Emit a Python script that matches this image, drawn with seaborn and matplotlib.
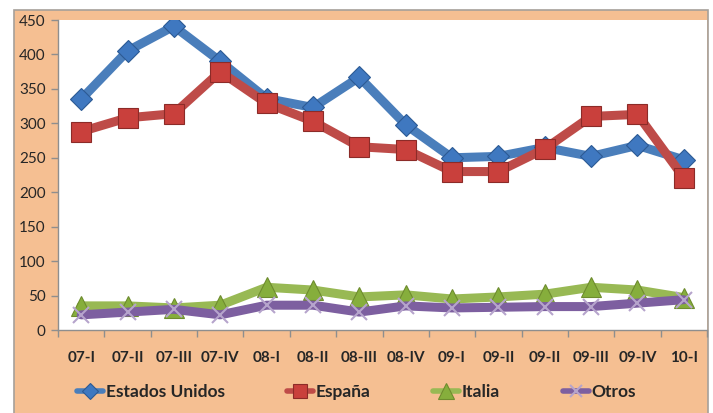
import matplotlib
matplotlib.use("Agg")
import matplotlib.pyplot as plt
from matplotlib.lines import Line2D
from matplotlib.patches import Rectangle
from matplotlib.ticker import FixedLocator, MultipleLocator
import pandas as pd
import seaborn as sns

sns.set_theme(style="white")
plt.rcParams["font.family"] = ["Lato", "DejaVu Sans"]

periodos = ["07-I", "07-II", "07-III", "07-IV", "08-I", "08-II", "08-III",
            "08-IV", "09-I", "09-II", "09-II", "09-III", "09-IV", "10-I"]
estados_unidos = [335, 405, 441, 390, 336, 323, 367, 298, 250, 252, 265, 252, 268, 247]
espana = [288, 308, 314, 375, 329, 303, 266, 262, 230, 230, 263, 310, 313, 221]
italia = [35, 35, 32, 36, 62, 58, 48, 51, 45, 48, 52, 62, 58, 47]
otros = [22, 26, 30, 22, 36, 36, 26, 35, 32, 33, 34, 34, 39, 44]

series = {
    "Estados Unidos": estados_unidos,
    "España": espana,
    "Italia": italia,
    "Otros": otros,
}
styles = {
    "Estados Unidos": dict(color="#4A7EBB", marker="D", ms=11, mec="#2C5A94", mfc="#3F78C0", mew=0.8),
    "España": dict(color="#BE4B48", marker="s", ms=14, mec="#8C2B28", mfc="#C9403C", mew=0.8),
    "Italia": dict(color="#98B954", marker="^", ms=15, mec="#6E8C2E", mfc="#86AE3C", mew=0.8),
    "Otros": dict(color="#7D5FA0", marker="x", ms=12, mec="#B6A4CC", mfc="#B6A4CC", mew=1.5),
}

df = pd.DataFrame({
    "pos": list(range(len(periodos))) * len(series),
    "valor": [v for vals in series.values() for v in vals],
    "serie": [name for name, vals in series.items() for _ in vals],
})

fig = plt.figure(figsize=(7.13, 4.13), dpi=100, facecolor="white")
W, H = 713, 413
fig.patches.append(Rectangle((14 / W, -0.01), 694 / W, (H - 10) / H + 0.01,
                             transform=fig.transFigure, facecolor="#F5BF92",
                             edgecolor="#A6A09A", linewidth=1.2, zorder=-10))

ax = fig.add_axes([58 / W, (H - 330) / H, 649 / W, 310 / H])
ax.set_facecolor("white")
ax.set_zorder(2)

for name in series:
    st = styles[name]
    sub = df[df["serie"] == name]
    sns.lineplot(data=sub, x="pos", y="valor", ax=ax, color=st["color"], linewidth=6.5,
                 marker=st["marker"], markersize=st["ms"], markeredgecolor=st["mec"],
                 markerfacecolor=st["mfc"], markeredgewidth=st["mew"], legend=False)

ax.set_xlim(-0.5, len(periodos) - 0.5)
ax.set_ylim(0, 450)
ax.yaxis.set_major_locator(MultipleLocator(50))
ax.set_xticks(range(len(periodos)))
ax.set_xticklabels(periodos, fontweight="bold", fontsize=11)
ax.xaxis.set_minor_locator(FixedLocator([i - 0.5 for i in range(len(periodos) + 1)]))
ax.tick_params(axis="x", which="major", length=0, pad=15)
ax.tick_params(axis="x", which="minor", length=5, color="#8E8E8E", width=1, bottom=True)
ax.tick_params(axis="y", length=5, color="#8E8E8E", width=1, left=True, labelsize=11, pad=4)
ax.set_xlabel("")
ax.set_ylabel("")
for side in ["top", "right"]:
    ax.spines[side].set_visible(False)
for side in ["left", "bottom"]:
    ax.spines[side].set_color("#8E8E8E")
    ax.spines[side].set_linewidth(1)

handles = [Line2D([], [], color=st["color"], linewidth=4, marker=st["marker"],
                  markersize=st["ms"] * 0.75, markeredgecolor=st["mec"],
                  markerfacecolor=st["mfc"], markeredgewidth=st["mew"])
           for st in styles.values()]
fig.legend(handles, list(series), loc="center", bbox_to_anchor=(0.5, (H - 392) / H), ncol=4,
           frameon=False, handlelength=1.5, handletextpad=0.15,
           columnspacing=3.6, prop={"weight": "bold", "size": 12.5})

fig.savefig("out.png", dpi=100, facecolor="white")
